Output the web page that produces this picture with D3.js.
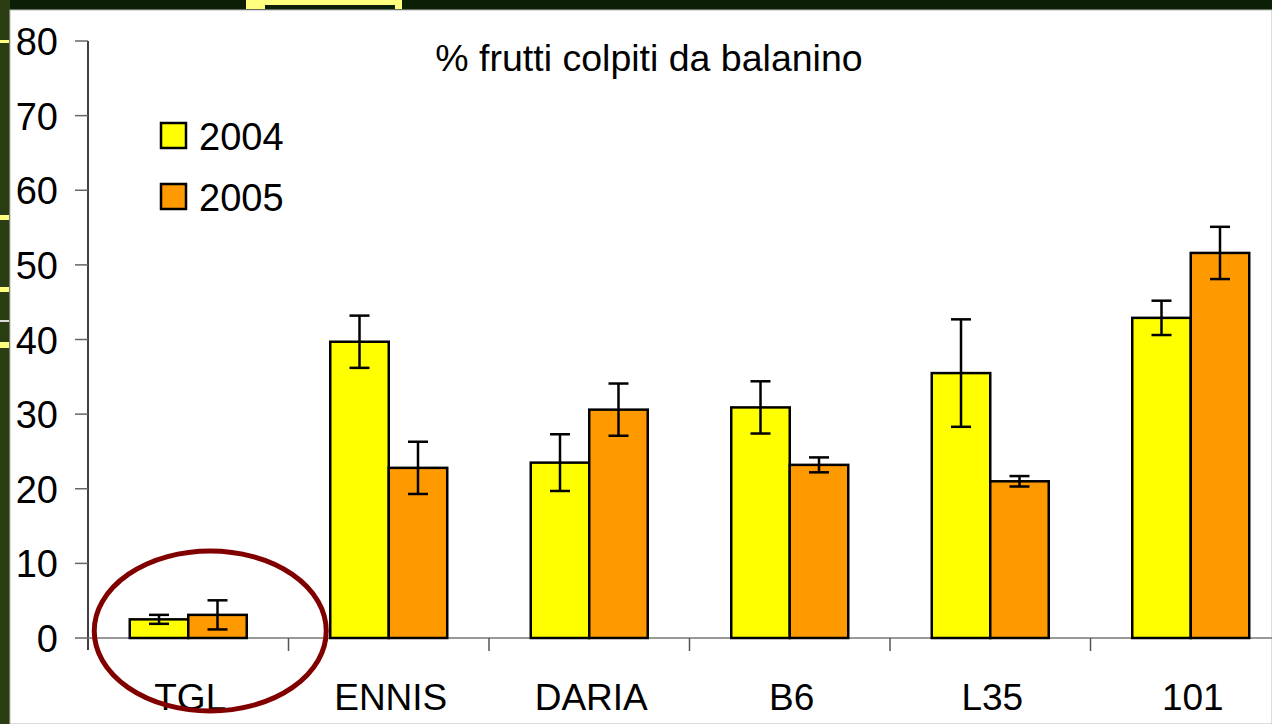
<!DOCTYPE html>
<html>
  <head>
    <meta charset="utf-8">
    <title>% frutti colpiti da balanino</title>
    <script src="https://d3js.org/d3.v7.min.js"></script>
    <style>
      body { margin: 0; background: #0a1f05; }
      svg { display: block; }
      text { font-family: Arial, "Liberation Sans", sans-serif; fill: #000; }
    </style>
  </head>
  <body>
  <script>

    var categories = ['TGL', 'ENNIS', 'DARIA', 'B6', 'L35', '101'];
    var series = ['2004', '2005'];
    var values2004 = [2.5, 39.7, 23.5, 30.9, 35.5, 42.9];
    var values2005 = [3.1, 22.8, 30.6, 23.2, 21.0, 51.6];
    var err2004 = [0.6, 3.5, 3.8, 3.5, 7.2, 2.3];
    var err2005 = [1.95, 3.5, 3.5, 1.0, 0.7, 3.5];
    var yTicks = [0, 10, 20, 30, 40, 50, 60, 70, 80];

    var colors = {'2004': '#ffff00', '2005': '#ff9900'};

    var width = 1272;
    var height = 724;

    var svg = d3.select('body')
      .append('svg')
      .attr('width', width)
      .attr('height', height);

    // slide background
    svg.append('rect').attr('width', width).attr('height', height).attr('fill', '#0a1f05');
    svg.append('rect').attr('x', 0).attr('y', 0).attr('width', 10).attr('height', height)
      .attr('fill', '#2b3d12');
    [[0, 40, 3], [0, 215, 5], [0, 287, 5], [0, 320, 2], [0, 342, 6]].forEach(function(s) {
      svg.append('rect').attr('x', s[0]).attr('y', s[1]).attr('width', 9).attr('height', s[2])
        .attr('fill', s[2] == 2 ? '#ddd' : '#ffff80');
    });
    svg.append('rect').attr('x', 246).attr('y', 0).attr('width', 156).attr('height', 9).attr('fill', '#ffff80');
    svg.append('rect').attr('x', 265).attr('y', 5).attr('width', 130).attr('height', 4).attr('fill', '#0a1f05');

    // white chart area
    svg.append('rect').attr('x', 10).attr('y', 10).attr('width', width - 10).attr('height', height - 10)
      .attr('fill', '#fff').attr('stroke', '#bbb').attr('stroke-width', 1);

    var x = d3.scaleBand().domain(categories).range([88, 1291]);
    var x1 = d3.scaleBand().domain(series).range([0, x.bandwidth()]).paddingOuter(0.714);
    var y = d3.scaleLinear().domain([0, 80]).range([638, 41]);

    // title
    svg.append('text')
      .attr('x', 649).attr('y', 71)
      .attr('text-anchor', 'middle')
      .style('font-size', '37.5px')
      .text('% frutti colpiti da balanino');

    // y axis
    var yAxis = svg.append('g');
    yAxis.append('line')
      .attr('x1', 88).attr('x2', 88).attr('y1', y(80)).attr('y2', 650)
      .attr('stroke', '#000').attr('stroke-width', 1.5);
    yAxis.selectAll('.ytick').data(yTicks).enter().append('line')
      .attr('class', 'ytick')
      .attr('x1', 75).attr('x2', 88)
      .attr('y1', function(d) { return y(d); })
      .attr('y2', function(d) { return y(d); })
      .attr('stroke', '#666').attr('stroke-width', 1.5);
    yAxis.selectAll('.ylab').data(yTicks).enter().append('text')
      .attr('class', 'ylab')
      .attr('x', 58)
      .attr('y', function(d) { return y(d) + 14; })
      .attr('text-anchor', 'end')
      .style('font-size', '38px')
      .text(function(d) { return d; });

    // x axis
    svg.append('line')
      .attr('x1', 88).attr('x2', width).attr('y1', y(0)).attr('y2', y(0))
      .attr('stroke', '#777').attr('stroke-width', 1.5);
    svg.selectAll('.xtick').data(categories).enter().append('line')
      .attr('class', 'xtick')
      .attr('x1', function(d) { return x(d) + x.bandwidth(); })
      .attr('x2', function(d) { return x(d) + x.bandwidth(); })
      .attr('y1', y(0)).attr('y2', 651)
      .attr('stroke', '#555').attr('stroke-width', 1.5);
    svg.selectAll('.xlab').data(categories).enter().append('text')
      .attr('class', 'xlab')
      .attr('x', function(d) { return x(d) + x.bandwidth() / 2 + 2; })
      .attr('y', 710)
      .attr('text-anchor', 'middle')
      .style('font-size', '37px')
      .text(function(d) { return d; });

    var rows = [];
    categories.forEach(function(c, i) {
      rows.push({cat: c, s: '2004', v: values2004[i], e: err2004[i]});
      rows.push({cat: c, s: '2005', v: values2005[i], e: err2005[i]});
    });

    // bars
    svg.selectAll('.bar').data(rows).enter().append('rect')
      .attr('class', 'bar')
      .attr('x', function(d) { return x(d.cat) + x1(d.s); })
      .attr('y', function(d) { return y(d.v); })
      .attr('width', x1.bandwidth())
      .attr('height', function(d) { return y(0) - y(d.v); })
      .attr('fill', function(d) { return colors[d.s]; })
      .attr('stroke', '#000').attr('stroke-width', 2.5);

    // error bars
    var eb = svg.selectAll('.err').data(rows).enter().append('g').attr('class', 'err')
      .attr('stroke', '#000').attr('stroke-width', 2.5);
    function cx(d) { return x(d.cat) + x1(d.s) + x1.bandwidth() / 2; }
    eb.append('line')
      .attr('x1', cx).attr('x2', cx)
      .attr('y1', function(d) { return y(d.v + d.e); })
      .attr('y2', function(d) { return y(d.v - d.e); });
    eb.append('line')
      .attr('x1', function(d) { return cx(d) - 10; }).attr('x2', function(d) { return cx(d) + 10; })
      .attr('y1', function(d) { return y(d.v + d.e); })
      .attr('y2', function(d) { return y(d.v + d.e); });
    eb.append('line')
      .attr('x1', function(d) { return cx(d) - 10; }).attr('x2', function(d) { return cx(d) + 10; })
      .attr('y1', function(d) { return y(d.v - d.e); })
      .attr('y2', function(d) { return y(d.v - d.e); });

    // legend
    var leg = svg.selectAll('.leg').data(series).enter().append('g')
      .attr('class', 'leg')
      .attr('transform', function(d, i) { return 'translate(161,' + (123 + i * 61) + ')'; });
    leg.append('rect')
      .attr('width', 25).attr('height', 25)
      .attr('fill', function(d) { return colors[d]; })
      .attr('stroke', '#000').attr('stroke-width', 2.5);
    leg.append('text')
      .attr('x', 38).attr('y', 27)
      .style('font-size', '38px')
      .text(function(d) { return d; });

    // highlight ellipse around TGL
    svg.append('ellipse')
      .attr('cx', x('TGL') + x.bandwidth() / 2 + 22)
      .attr('cy', 631)
      .attr('rx', 116).attr('ry', 80)
      .attr('fill', 'none')
      .attr('stroke', '#800000').attr('stroke-width', 5);

  </script>
  </body>
</html>
